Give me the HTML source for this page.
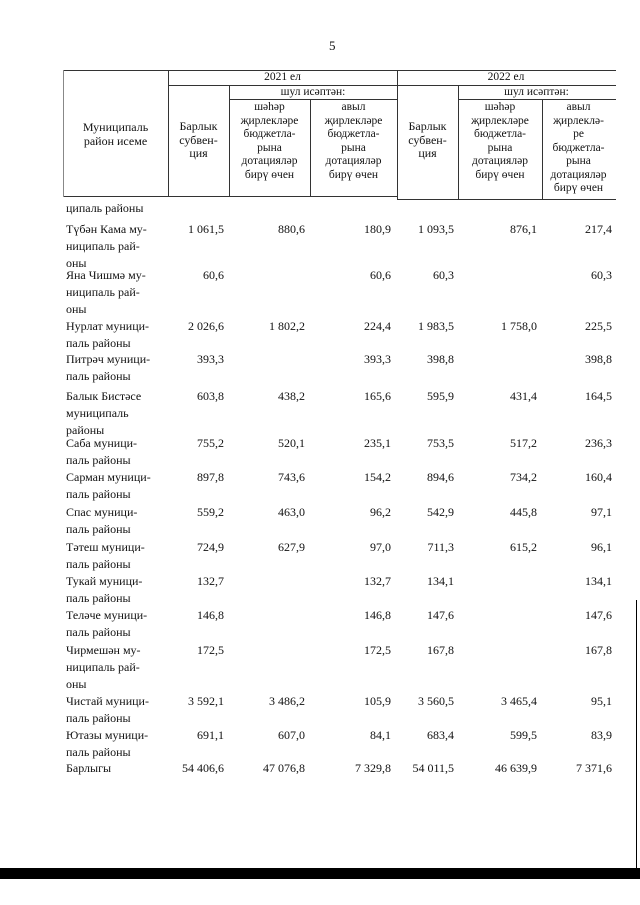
<!DOCTYPE html>
<html><head><meta charset="utf-8"><style>
body{margin:0;width:640px;height:905px;background:#fff;position:relative;overflow:hidden;font-family:"Liberation Serif",serif;font-size:12px;color:#111}
.a{position:absolute;white-space:nowrap;line-height:17px}
.h{position:absolute;text-align:center;line-height:13.5px;font-size:11.5px}
.l{position:absolute;background:#333}
.r{position:absolute;text-align:right;white-space:nowrap}
</style></head><body>
<div class="a" style="left:329px;top:37px;font-size:13px">5</div>
<div class="l" style="left:63px;top:70px;width:553px;height:1px"></div>
<div class="l" style="left:168px;top:85px;width:448px;height:1px"></div>
<div class="l" style="left:229px;top:99px;width:168px;height:1px"></div>
<div class="l" style="left:458px;top:99px;width:158px;height:1px"></div>
<div class="l" style="left:63px;top:196px;width:334px;height:1px"></div>
<div class="l" style="left:397px;top:199px;width:219px;height:1px"></div>
<div class="l" style="left:63px;top:70px;width:1px;height:127px;background:#888"></div>
<div class="l" style="left:168px;top:70px;width:1px;height:127px"></div>
<div class="l" style="left:229px;top:85px;width:1px;height:112px"></div>
<div class="l" style="left:310px;top:99px;width:1px;height:98px"></div>
<div class="l" style="left:397px;top:70px;width:1px;height:130px"></div>
<div class="l" style="left:458px;top:85px;width:1px;height:115px"></div>
<div class="l" style="left:542px;top:99px;width:1px;height:101px"></div>
<div class="h" style="left:168px;top:71px;width:229px">2021 ел</div>
<div class="h" style="left:397px;top:71px;width:218px">2022 ел</div>
<div class="h" style="left:229px;top:86px;width:168px">шул исәптән:</div>
<div class="h" style="left:458px;top:86px;width:157px">шул исәптән:</div>
<div class="h" style="left:63px;top:121px;width:105px;font-size:12px">Муниципаль<br>район исеме</div>
<div class="h" style="left:168px;top:120px;width:61px;font-size:12px">Барлык<br>субвен-<br>ция</div>
<div class="h" style="left:397px;top:120px;width:61px;font-size:12px">Барлык<br>субвен-<br>ция</div>
<div class="h" style="left:229px;top:101px;width:81px">шәһәр<br>җирлекләре<br>бюджетла-<br>рына<br>дотацияләр<br>бирү өчен</div>
<div class="h" style="left:310px;top:101px;width:87px">авыл<br>җирлекләре<br>бюджетла-<br>рына<br>дотацияләр<br>бирү өчен</div>
<div class="h" style="left:458px;top:101px;width:84px">шәһәр<br>җирлекләре<br>бюджетла-<br>рына<br>дотацияләр<br>бирү өчен</div>
<div class="h" style="left:542px;top:101px;width:73px">авыл<br>җирлеклә-<br>ре<br>бюджетла-<br>рына<br>дотацияләр<br>бирү өчен</div>

<div class="a" style="left:66px;top:200px">ципаль районы</div>
<div id="rows"></div>
<script>
var R=[
[221,["Түбән Кама му-","ниципаль рай-","оны"],["1 061,5","880,6","180,9","1 093,5","876,1","217,4"]],
[267,["Яна Чишмә му-","ниципаль рай-","оны"],["60,6","","60,6","60,3","","60,3"]],
[318,["Нурлат муници-","паль районы"],["2 026,6","1 802,2","224,4","1 983,5","1 758,0","225,5"]],
[351,["Питрәч муници-","паль районы"],["393,3","","393,3","398,8","","398,8"]],
[388,["Балык Бистәсе","муниципаль","районы"],["603,8","438,2","165,6","595,9","431,4","164,5"]],
[435,["Саба муници-","паль районы"],["755,2","520,1","235,1","753,5","517,2","236,3"]],
[469,["Сарман муници-","паль районы"],["897,8","743,6","154,2","894,6","734,2","160,4"]],
[504,["Спас муници-","паль районы"],["559,2","463,0","96,2","542,9","445,8","97,1"]],
[539,["Тәтеш муници-","паль районы"],["724,9","627,9","97,0","711,3","615,2","96,1"]],
[573,["Тукай муници-","паль районы"],["132,7","","132,7","134,1","","134,1"]],
[607,["Теләче муници-","паль районы"],["146,8","","146,8","147,6","","147,6"]],
[642,["Чирмешән му-","ниципаль рай-","оны"],["172,5","","172,5","167,8","","167,8"]],
[693,["Чистай муници-","паль районы"],["3 592,1","3 486,2","105,9","3 560,5","3 465,4","95,1"]],
[727,["Ютазы муници-","паль районы"],["691,1","607,0","84,1","683,4","599,5","83,9"]],
[760,["Барлыгы"],["54 406,6","47 076,8","7 329,8","54 011,5","46 639,9","7 371,6"]]];
var rx=[224,305,391,454,537,612],h="";
R.forEach(function(r){h+='<div class="a" style="left:66px;top:'+r[0]+'px">'+r[1].join("<br>")+'</div>';
r[2].forEach(function(v,i){if(v)h+='<div class="a r" style="right:'+(640-rx[i])+'px;top:'+r[0]+'px">'+v+'</div>';});});
document.getElementById("rows").innerHTML=h;
</script>
<div class="l" style="left:636px;top:600px;width:1px;height:268px;background:#000"></div>
<div class="l" style="left:0;top:868px;width:640px;height:11px;background:#000"></div>
</body></html>
